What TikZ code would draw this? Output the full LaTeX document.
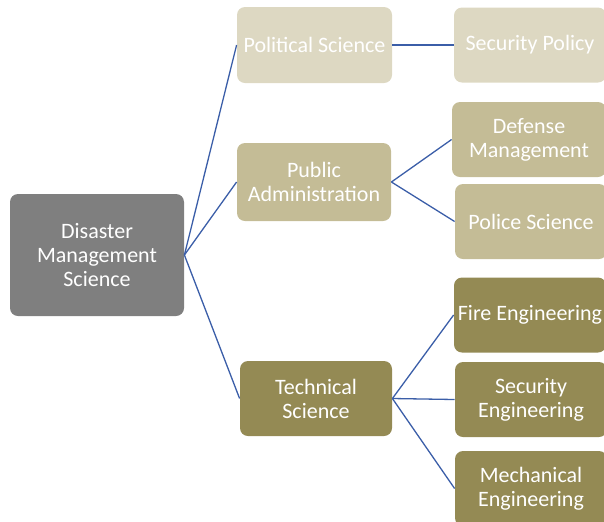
\documentclass[tikz,border=0pt]{standalone}
\usepackage{fontspec}
\setmainfont{Carlito}
\definecolor{rootgray}{HTML}{7F7F7F}
\definecolor{palebeige}{HTML}{DDD8C2}
\definecolor{midbeige}{HTML}{C4BC96}
\definecolor{olive}{HTML}{948A54}
\definecolor{linkblue}{HTML}{3B5EA8}
\begin{document}
\begin{tikzpicture}[x=0.5pt,y=-0.5pt,
  box/.style={rounded corners=4pt, text=white, align=center, inner sep=0pt,
    font=\fontsize{11}{12}\selectfont},
  leaf/.style={box, minimum width=76pt, minimum height=37.5pt},
  link/.style={draw=linkblue, line width=0.65pt}]
  \useasboundingbox (0,0) rectangle (604,521);
  \clip (0,0) rectangle (604,521);
  \node[box, fill=rootgray, minimum width=87pt, minimum height=61pt] (dms) at (97,255) {Disaster\\Management\\Science};
  \node[box, fill=palebeige, minimum width=77.5pt, minimum height=38pt] (pol) at (314.5,45) {Political Science};
  \node[box, fill=midbeige, minimum width=77pt, minimum height=39pt] (pub) at (314,182) {Public\\Administration};
  \node[box, fill=olive, minimum width=76pt, minimum height=37.5pt] (tech) at (316,398.5) {Technical\\Science};
  \node[leaf, fill=palebeige] (secpol) at (530,45) {Security Policy};
  \node[leaf, fill=midbeige, minimum width=77pt] (def) at (529,139.5) {Defense\\Management};
  \node[leaf, fill=midbeige] (pol2) at (531,221.5) {Police Science};
  \node[leaf, fill=olive] (fire) at (530,315) {Fire Engineering};
  \node[leaf, fill=olive] (seceng) at (531,399.5) {Security\\Engineering};
  \node[leaf, fill=olive] (mech) at (531,488.5) {Mechanical\\Engineering};
  \draw[link] (dms.east) -- (pol.west);
  \draw[link] (dms.east) -- (pub.west);
  \draw[link] (dms.east) -- (tech.west);
  \draw[link] (pol.east) -- (secpol.west);
  \draw[link] (pub.east) -- (def.west);
  \draw[link] (pub.east) -- (pol2.west);
  \draw[link] (tech.east) -- (fire.west);
  \draw[link] (tech.east) -- (seceng.west);
  \draw[link] (tech.east) -- (mech.west);
\end{tikzpicture}
\end{document}
